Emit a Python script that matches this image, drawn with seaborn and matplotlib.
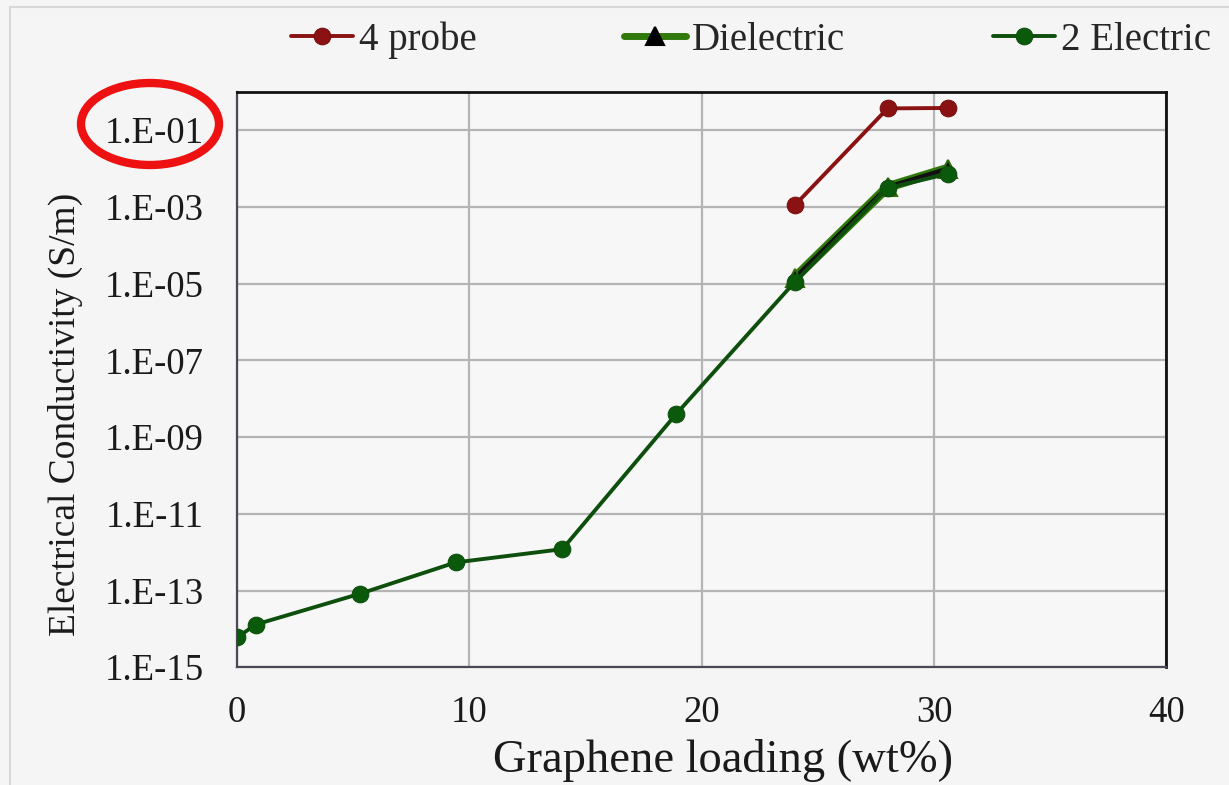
import numpy as np
import pandas as pd
import matplotlib
matplotlib.use("Agg")
import matplotlib.pyplot as plt
from matplotlib.patches import Ellipse, Rectangle
import seaborn as sns

# data
probe4_x = [24.0, 28.0, 30.6]
probe4_y = [1.1e-3, 0.37, 0.38]

diel_x = [24.0, 28.0, 30.6]
diel_y = [1.4e-5, 3.3e-3, 1.0e-2]

elec2_x = [0.0, 0.8, 5.3, 9.4, 14.0, 18.9, 24.0, 28.0, 30.6]
elec2_y = [6e-15, 1.3e-14, 8.3e-14, 5.4e-13, 1.2e-12, 4e-9, 1.1e-5, 3.1e-3, 7.3e-3]

xticks = [0, 10, 20, 30, 40]
yticks = [1e-15, 1e-13, 1e-11, 1e-9, 1e-7, 1e-5, 1e-3, 1e-1]
ytick_labels = ["1.E-15", "1.E-13", "1.E-11", "1.E-09", "1.E-07", "1.E-05", "1.E-03", "1.E-01"]

sns.set_style("white")
plt.rcParams["font.family"] = ["Liberation Serif", "DejaVu Serif"]
plt.rcParams["font.size"] = 26

fig = plt.figure(figsize=(12.29, 7.85), dpi=100, facecolor="#f5f5f5")
ax = fig.add_axes([0.193, 0.150, 0.756, 0.733])
ax.set_facecolor("#f7f7f7")

# faint outer frame of the original slide
fig.patches.append(Rectangle((10 / 1229, -0.01), 1.02, 1 - 7 / 785 + 0.01,
                             transform=fig.transFigure, fill=False,
                             edgecolor="#d8d8d8", lw=1.5))

df_p = pd.DataFrame({"x": probe4_x, "y": probe4_y})
df_d = pd.DataFrame({"x": diel_x, "y": diel_y})
df_e = pd.DataFrame({"x": elec2_x, "y": elec2_y})

sns.lineplot(data=df_p, x="x", y="y", ax=ax, color="#8a1212", lw=2.8,
             marker="o", markersize=12, markeredgecolor="#7a0c0c",
             label="4 probe", zorder=3)
# dielectric: green halo under a black core line
sns.lineplot(data=df_d, x="x", y="y", ax=ax, color="#2f7a0a", lw=7, zorder=2.9)
sns.lineplot(data=df_d, x="x", y="y", ax=ax, color="#111111", lw=3.2,
             marker="^", markersize=13, markerfacecolor="black",
             markeredgecolor="#2f6b08", markeredgewidth=1.5,
             label="Dielectric", zorder=3)
sns.lineplot(data=df_e, x="x", y="y", ax=ax, color="#0e4f0e", lw=2.8,
             marker="o", markersize=12, markerfacecolor="#0b5a0b",
             markeredgecolor="#0b4d0b", label="2 Electric", zorder=4)

ax.set_yscale("log")
ax.set_xlim(0, 40)
ax.set_ylim(1e-15, 1e0)
ax.set_xticks(xticks)
ax.set_xticklabels([str(t) for t in xticks])
ax.set_yticks(yticks)
ax.set_yticklabels(ytick_labels)
ax.yaxis.set_minor_locator(matplotlib.ticker.NullLocator())

ax.grid(True, which="major", color="#b4b4b4", lw=1.6)
ax.set_axisbelow(True)
ax.tick_params(axis="both", length=0, labelsize=26.5, colors="#1a1a1a")
ax.tick_params(axis="y", pad=24)
ax.tick_params(axis="x", pad=20)

for side in ["left", "bottom"]:
    ax.spines[side].set_color("#4a4a55")
    ax.spines[side].set_linewidth(1.6)
for side in ["top", "right"]:
    ax.spines[side].set_color("#111111")
    ax.spines[side].set_linewidth(2)

ax.set_xlabel("Graphene loading (wt%)", fontsize=33.5, color="#1a1a1a")
ax.set_ylabel("Electrical Conductivity (S/m)", fontsize=27, color="#1a1a1a")
ax.xaxis.set_label_coords(0.523, -0.125)
ax.yaxis.set_label_coords(-0.166, 0.44)

ax.get_legend().remove()
handles, labels = ax.get_legend_handles_labels()
leg = fig.legend(handles, labels, loc="center", bbox_to_anchor=(0.611, 0.949), ncol=3,
                 frameon=False, fontsize=28, handlelength=1.6, handletextpad=0.15,
                 columnspacing=3.8)
# legend swatch for Dielectric is a plain thick green line
leg.legend_handles[1].set_color("#2f7a0a")
leg.legend_handles[1].set_linewidth(5)
leg.legend_handles[1].set_markerfacecolor("black")
leg.legend_handles[1].set_markeredgecolor("black")

# red highlight around the 1.E-01 tick label
fig.patches.append(Ellipse((150 / 1229, 1 - 124 / 785), 138 / 1229, 82 / 785,
                           transform=fig.transFigure, fill=False,
                           edgecolor="#ee1111", lw=6, zorder=10))

fig.savefig("out.png", dpi=100, facecolor=fig.get_facecolor())
plt.close(fig)
